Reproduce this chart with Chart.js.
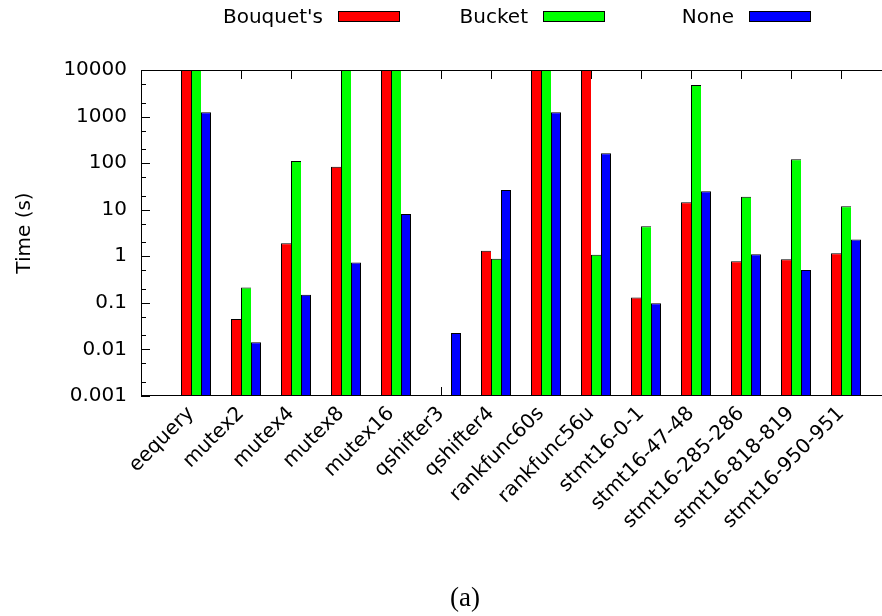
<!DOCTYPE html>
<html>
<head>
<meta charset="utf-8">
<script src="https://cdn.jsdelivr.net/npm/chart.js@4.4.0/dist/chart.umd.min.js"></script>
<style>
html, body { margin: 0; padding: 0; background: #fff; overflow: hidden; }
#wrap { position: relative; width: 892px; height: 616px; }
</style>
</head>
<body>
<div id="wrap"><canvas id="chart"></canvas></div>
<script>
// 数据
const categories = ['eequery', 'mutex2', 'mutex4', 'mutex8', 'mutex16', 'qshifter3', 'qshifter4',
    'rankfunc60s', 'rankfunc56u', 'stmt16-0-1', 'stmt16-47-48', 'stmt16-285-286', 'stmt16-818-819', 'stmt16-950-951'];
const bouquet = [10000, 0.045, 1.9, 84, 10000, null, 1.32, 10000, 10000, 0.131, 14.4, 0.78, 0.86, 1.16];
const bucket = [10000, 0.215, 111, 10000, 10000, null, 0.89, 10000, 1.08, 4.4, 4760, 19, 121, 11.8];
const none = [1236, 0.0142, 0.15, 0.74, 8.1, 0.0225, 26.5, 1236, 163, 0.098, 24.8, 1.1, 0.51, 2.3];
const yTicks = [0.001, 0.01, 0.1, 1, 10, 100, 1000, 10000];

const FONT = 'DejaVu Sans';

function toPoints(arr) {
    return arr.map((v, i) => ({ x: i, y: v }));
}

// 边框和刻度（gnuplot 风格，刻度朝内）
const framePlugin = {
    id: 'frame',
    beforeDatasetsDraw(chart) {
        const { ctx, chartArea: a, scales: { x, y } } = chart;
        ctx.save();
        ctx.strokeStyle = '#000';
        ctx.lineWidth = 1;
        ctx.beginPath();
        x.ticks.forEach(t => {
            const px = Math.round(x.getPixelForValue(t.value)) + 0.5;
            ctx.moveTo(px, a.top); ctx.lineTo(px, a.top + 9);
            ctx.moveTo(px, a.bottom); ctx.lineTo(px, a.bottom - 9);
        });
        yTicks.forEach(v => {
            const py = Math.round(y.getPixelForValue(v)) + 0.5;
            ctx.moveTo(a.left, py); ctx.lineTo(a.left + 9, py);
            ctx.moveTo(a.right, py); ctx.lineTo(a.right - 9, py);
        });
        yTicks.slice(0, -1).forEach(v => {
            [2, 5].forEach(m => {
                const py = Math.round(y.getPixelForValue(v * m)) + 0.5;
                ctx.moveTo(a.left, py); ctx.lineTo(a.left + 5, py);
                ctx.moveTo(a.right, py); ctx.lineTo(a.right - 5, py);
            });
        });
        ctx.stroke();
        ctx.restore();
    },
    afterDraw(chart) {
        const { ctx, chartArea: a } = chart;
        ctx.save();
        ctx.strokeStyle = '#000';
        ctx.lineWidth = 1;
        ctx.strokeRect(a.left + 0.5, a.top + 0.5, a.right - a.left, a.bottom - a.top - 1);

        // 图例：文字在左，色块在右
        const swatchLeft = [338, 543, 749];
        ctx.font = '20px "' + FONT + '"';
        ctx.textAlign = 'right';
        ctx.textBaseline = 'alphabetic';
        chart.data.datasets.forEach((ds, i) => {
            const sx = swatchLeft[i];
            ctx.fillStyle = '#000';
            ctx.fillText(ds.label, sx - 15, 23);
            ctx.fillStyle = ds.backgroundColor;
            ctx.fillRect(sx, 11, 62, 11);
            ctx.strokeRect(sx + 0.5, 11.5, 61, 10);
        });

        // 标题 (a)
        ctx.font = '27px "Liberation Serif"';
        ctx.textAlign = 'center';
        ctx.fillStyle = '#000';
        ctx.fillText('(a)', 465, 606);
        ctx.restore();
    }
};

const barCommon = {
    categoryPercentage: 0.6,
    barPercentage: 1.0,
    borderColor: '#000',
    borderSkipped: 'start'
};

new Chart(document.getElementById('chart'), {
    type: 'bar',
    data: {
        datasets: [{
            ...barCommon,
            label: "Bouquet's",
            data: toPoints(bouquet),
            backgroundColor: '#ff0000',
            borderWidth: { left: 1, top: 1, right: 0, bottom: 0 }
        }, {
            ...barCommon,
            label: 'Bucket',
            data: toPoints(bucket),
            backgroundColor: '#00ff00',
            borderWidth: { left: 1, top: 1, right: 0, bottom: 0 }
        }, {
            ...barCommon,
            label: 'None',
            data: toPoints(none),
            backgroundColor: '#0000ff',
            borderWidth: { left: 1, top: 1, right: 1, bottom: 0 }
        }]
    },
    options: {
        responsive: true,
        maintainAspectRatio: false,
        animation: false,
        layout: { padding: { top: 70, right: 1, left: 0, bottom: 0 } },
        plugins: {
            legend: { display: false },
            tooltip: { enabled: false }
        },
        scales: {
            x: {
                type: 'linear',
                min: -1.1,
                max: 13.9,
                offset: false,
                afterBuildTicks: s => { s.ticks = categories.map((c, i) => ({ value: i - 0.1 })); },
                afterFit: s => { s.height = 220; },
                grid: { display: false, drawTicks: false, offset: false },
                border: { display: false },
                ticks: {
                    autoSkip: false,
                    minRotation: 45,
                    maxRotation: 45,
                    padding: 6,
                    color: '#000',
                    font: { family: FONT, size: 20 },
                    callback: (v, i) => categories[i]
                }
            },
            y: {
                type: 'logarithmic',
                min: 0.001,
                max: 10000,
                afterBuildTicks: s => { s.ticks = yTicks.map(v => ({ value: v })); },
                afterFit: s => { s.width = 141; },
                grid: { display: false, drawTicks: false },
                border: { display: false },
                ticks: {
                    padding: 14,
                    color: '#000',
                    font: { family: FONT, size: 20 },
                    callback: v => String(v)
                },
                title: {
                    display: true,
                    text: 'Time (s)',
                    color: '#000',
                    font: { family: FONT, size: 20 },
                    padding: { top: 13, bottom: 0 }
                }
            }
        }
    },
    plugins: [framePlugin]
});
</script>
</body>
</html>
